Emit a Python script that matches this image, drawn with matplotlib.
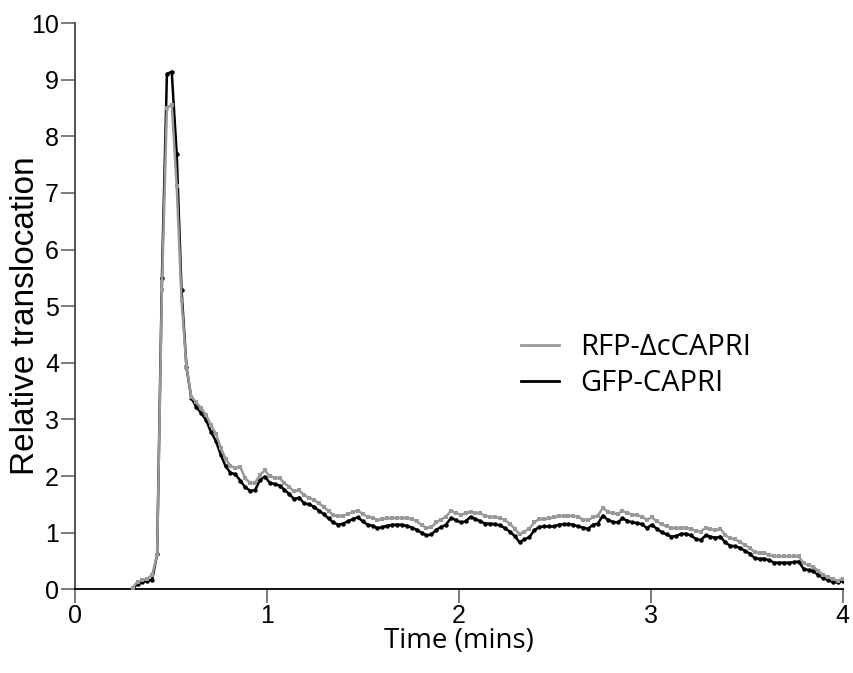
import matplotlib
matplotlib.use("Agg")
import matplotlib.pyplot as plt

# time in minutes (one frame roughly every 1.5 s)
time_min = [
    0.300, 0.326, 0.351, 0.377, 0.402, 0.428, 0.453, 0.479, 0.504, 0.530,
    0.555, 0.581, 0.606, 0.632, 0.657, 0.683, 0.708, 0.734, 0.759, 0.785,
    0.810, 0.836, 0.861, 0.887, 0.913, 0.938, 0.964, 0.989, 1.015, 1.040,
    1.066, 1.091, 1.117, 1.142, 1.168, 1.193, 1.219, 1.244, 1.270, 1.295,
    1.321, 1.346, 1.372, 1.397, 1.423, 1.448, 1.474, 1.499, 1.525, 1.551,
    1.576, 1.602, 1.627, 1.653, 1.678, 1.704, 1.729, 1.755, 1.780, 1.806,
    1.831, 1.857, 1.882, 1.908, 1.933, 1.959, 1.984, 2.010, 2.035, 2.061,
    2.086, 2.112, 2.137, 2.163, 2.189, 2.214, 2.240, 2.265, 2.291, 2.316,
    2.342, 2.367, 2.393, 2.418, 2.444, 2.469, 2.495, 2.520, 2.546, 2.571,
    2.597, 2.622, 2.648, 2.673, 2.699, 2.724, 2.750, 2.775, 2.801, 2.827,
    2.852, 2.878, 2.903, 2.929, 2.954, 2.980, 3.005, 3.031, 3.056, 3.082,
    3.107, 3.133, 3.158, 3.184, 3.209, 3.235, 3.260, 3.286, 3.311, 3.337,
    3.362, 3.388, 3.413, 3.439, 3.465, 3.490, 3.516, 3.541, 3.567, 3.592,
    3.618, 3.643, 3.669, 3.694, 3.720, 3.745, 3.771, 3.796, 3.822, 3.847,
    3.873, 3.898, 3.924, 3.949, 3.975, 4.000,
]

gfp_capri = [
    0.00, 0.10, 0.13, 0.15, 0.17, 0.62, 5.50, 9.10, 9.14, 7.69,
    5.29, 3.92, 3.38, 3.22, 3.11, 2.99, 2.78, 2.62, 2.38, 2.17,
    2.06, 2.03, 1.92, 1.80, 1.74, 1.75, 1.93, 1.99, 1.88, 1.86,
    1.83, 1.76, 1.68, 1.59, 1.62, 1.52, 1.50, 1.46, 1.39, 1.33,
    1.25, 1.18, 1.14, 1.16, 1.20, 1.24, 1.27, 1.20, 1.14, 1.12,
    1.08, 1.10, 1.12, 1.14, 1.14, 1.14, 1.12, 1.09, 1.05, 1.00,
    0.95, 0.97, 1.05, 1.10, 1.14, 1.26, 1.22, 1.18, 1.20, 1.28,
    1.24, 1.20, 1.16, 1.16, 1.15, 1.13, 1.08, 1.02, 0.94, 0.83,
    0.88, 0.92, 1.04, 1.10, 1.11, 1.11, 1.11, 1.14, 1.15, 1.15,
    1.14, 1.11, 1.09, 1.07, 1.14, 1.16, 1.30, 1.23, 1.19, 1.18,
    1.25, 1.21, 1.18, 1.17, 1.15, 1.08, 1.14, 1.07, 1.01, 0.97,
    0.93, 0.94, 0.98, 0.98, 0.95, 0.89, 0.87, 0.95, 0.93, 0.91,
    0.93, 0.83, 0.77, 0.76, 0.73, 0.68, 0.63, 0.55, 0.54, 0.54,
    0.51, 0.47, 0.47, 0.47, 0.47, 0.48, 0.49, 0.36, 0.34, 0.32,
    0.25, 0.20, 0.16, 0.13, 0.12, 0.15,
]

rfp_dccapri = [
    0.03, 0.13, 0.16, 0.19, 0.25, 0.61, 5.29, 8.50, 8.56, 7.12,
    5.11, 3.92, 3.40, 3.30, 3.20, 3.08, 2.90, 2.75, 2.50, 2.30,
    2.18, 2.14, 2.16, 1.96, 1.88, 1.88, 2.02, 2.10, 2.00, 1.97,
    1.96, 1.88, 1.80, 1.73, 1.75, 1.66, 1.62, 1.58, 1.52, 1.46,
    1.38, 1.31, 1.29, 1.30, 1.33, 1.36, 1.39, 1.33, 1.28, 1.26,
    1.22, 1.24, 1.25, 1.26, 1.26, 1.26, 1.26, 1.24, 1.20, 1.14,
    1.08, 1.10, 1.18, 1.23, 1.28, 1.39, 1.34, 1.32, 1.34, 1.37,
    1.35, 1.34, 1.30, 1.28, 1.27, 1.26, 1.22, 1.16, 1.07, 0.97,
    1.02, 1.07, 1.18, 1.24, 1.24, 1.25, 1.27, 1.29, 1.30, 1.30,
    1.29, 1.28, 1.23, 1.22, 1.27, 1.30, 1.44, 1.37, 1.34, 1.33,
    1.38, 1.35, 1.32, 1.31, 1.28, 1.23, 1.27, 1.20, 1.15, 1.11,
    1.08, 1.08, 1.08, 1.08, 1.07, 1.03, 1.02, 1.09, 1.06, 1.04,
    1.07, 0.96, 0.90, 0.88, 0.84, 0.78, 0.73, 0.66, 0.64, 0.64,
    0.60, 0.58, 0.58, 0.58, 0.58, 0.58, 0.58, 0.46, 0.42, 0.40,
    0.32, 0.26, 0.21, 0.18, 0.15, 0.19,
]

x_ticks = [0, 1, 2, 3, 4]
y_ticks = [0, 1, 2, 3, 4, 5, 6, 7, 8, 9, 10]

fig = plt.figure(figsize=(8.54, 6.73), dpi=100)
ax = fig.add_axes([0.0878, 0.1244, 0.899, 0.8414])

ax.plot(time_min, gfp_capri, color="black", lw=1.8, marker="o", ms=3.2,
        markeredgewidth=0, label="GFP-CAPRI", zorder=3)
ax.plot(time_min, rfp_dccapri, color="#999999", lw=1.8, marker="s", ms=3.2,
        markeredgewidth=0, label="RFP-\u0394cCAPRI", zorder=4)

ax.set_xlim(0, 4)
ax.set_ylim(0, 10)
ax.set_xticks(x_ticks)
ax.set_yticks(y_ticks)
ax.spines["top"].set_visible(False)
ax.spines["right"].set_visible(False)
ax.spines["left"].set_color("#444444")
ax.spines["left"].set_linewidth(1.3)
ax.spines["bottom"].set_linewidth(1.3)
ax.tick_params(direction="out", length=10, width=1.2, color="#666666",
               labelsize=18, pad=1.5)
ax.tick_params(axis="x", pad=0.5)
for lab in ax.get_xticklabels() + ax.get_yticklabels():
    lab.set_family("Liberation Sans")

ax.set_xlabel("Time (mins)", family="Open Sans", fontsize=20, va="center")
ax.xaxis.set_label_coords(0.5, -0.092)
ax.set_ylabel("Relative translocation", family="Liberation Sans",
              fontsize=24, va="center")
ax.yaxis.set_label_coords(-0.064, 0.484)

handles, labels = ax.get_legend_handles_labels()
leg = ax.legend(handles[::-1], labels[::-1], frameon=False,
                loc="center left", bbox_to_anchor=(0.5625, 0.395),
                borderpad=0, handlelength=1.3, handletextpad=0.7,
                labelspacing=0.25,
                prop={"family": "Open Sans", "size": 21})
for h in leg.get_lines():
    h.set_marker("")
    h.set_linewidth(2)

fig.savefig("out.png", dpi=100)
